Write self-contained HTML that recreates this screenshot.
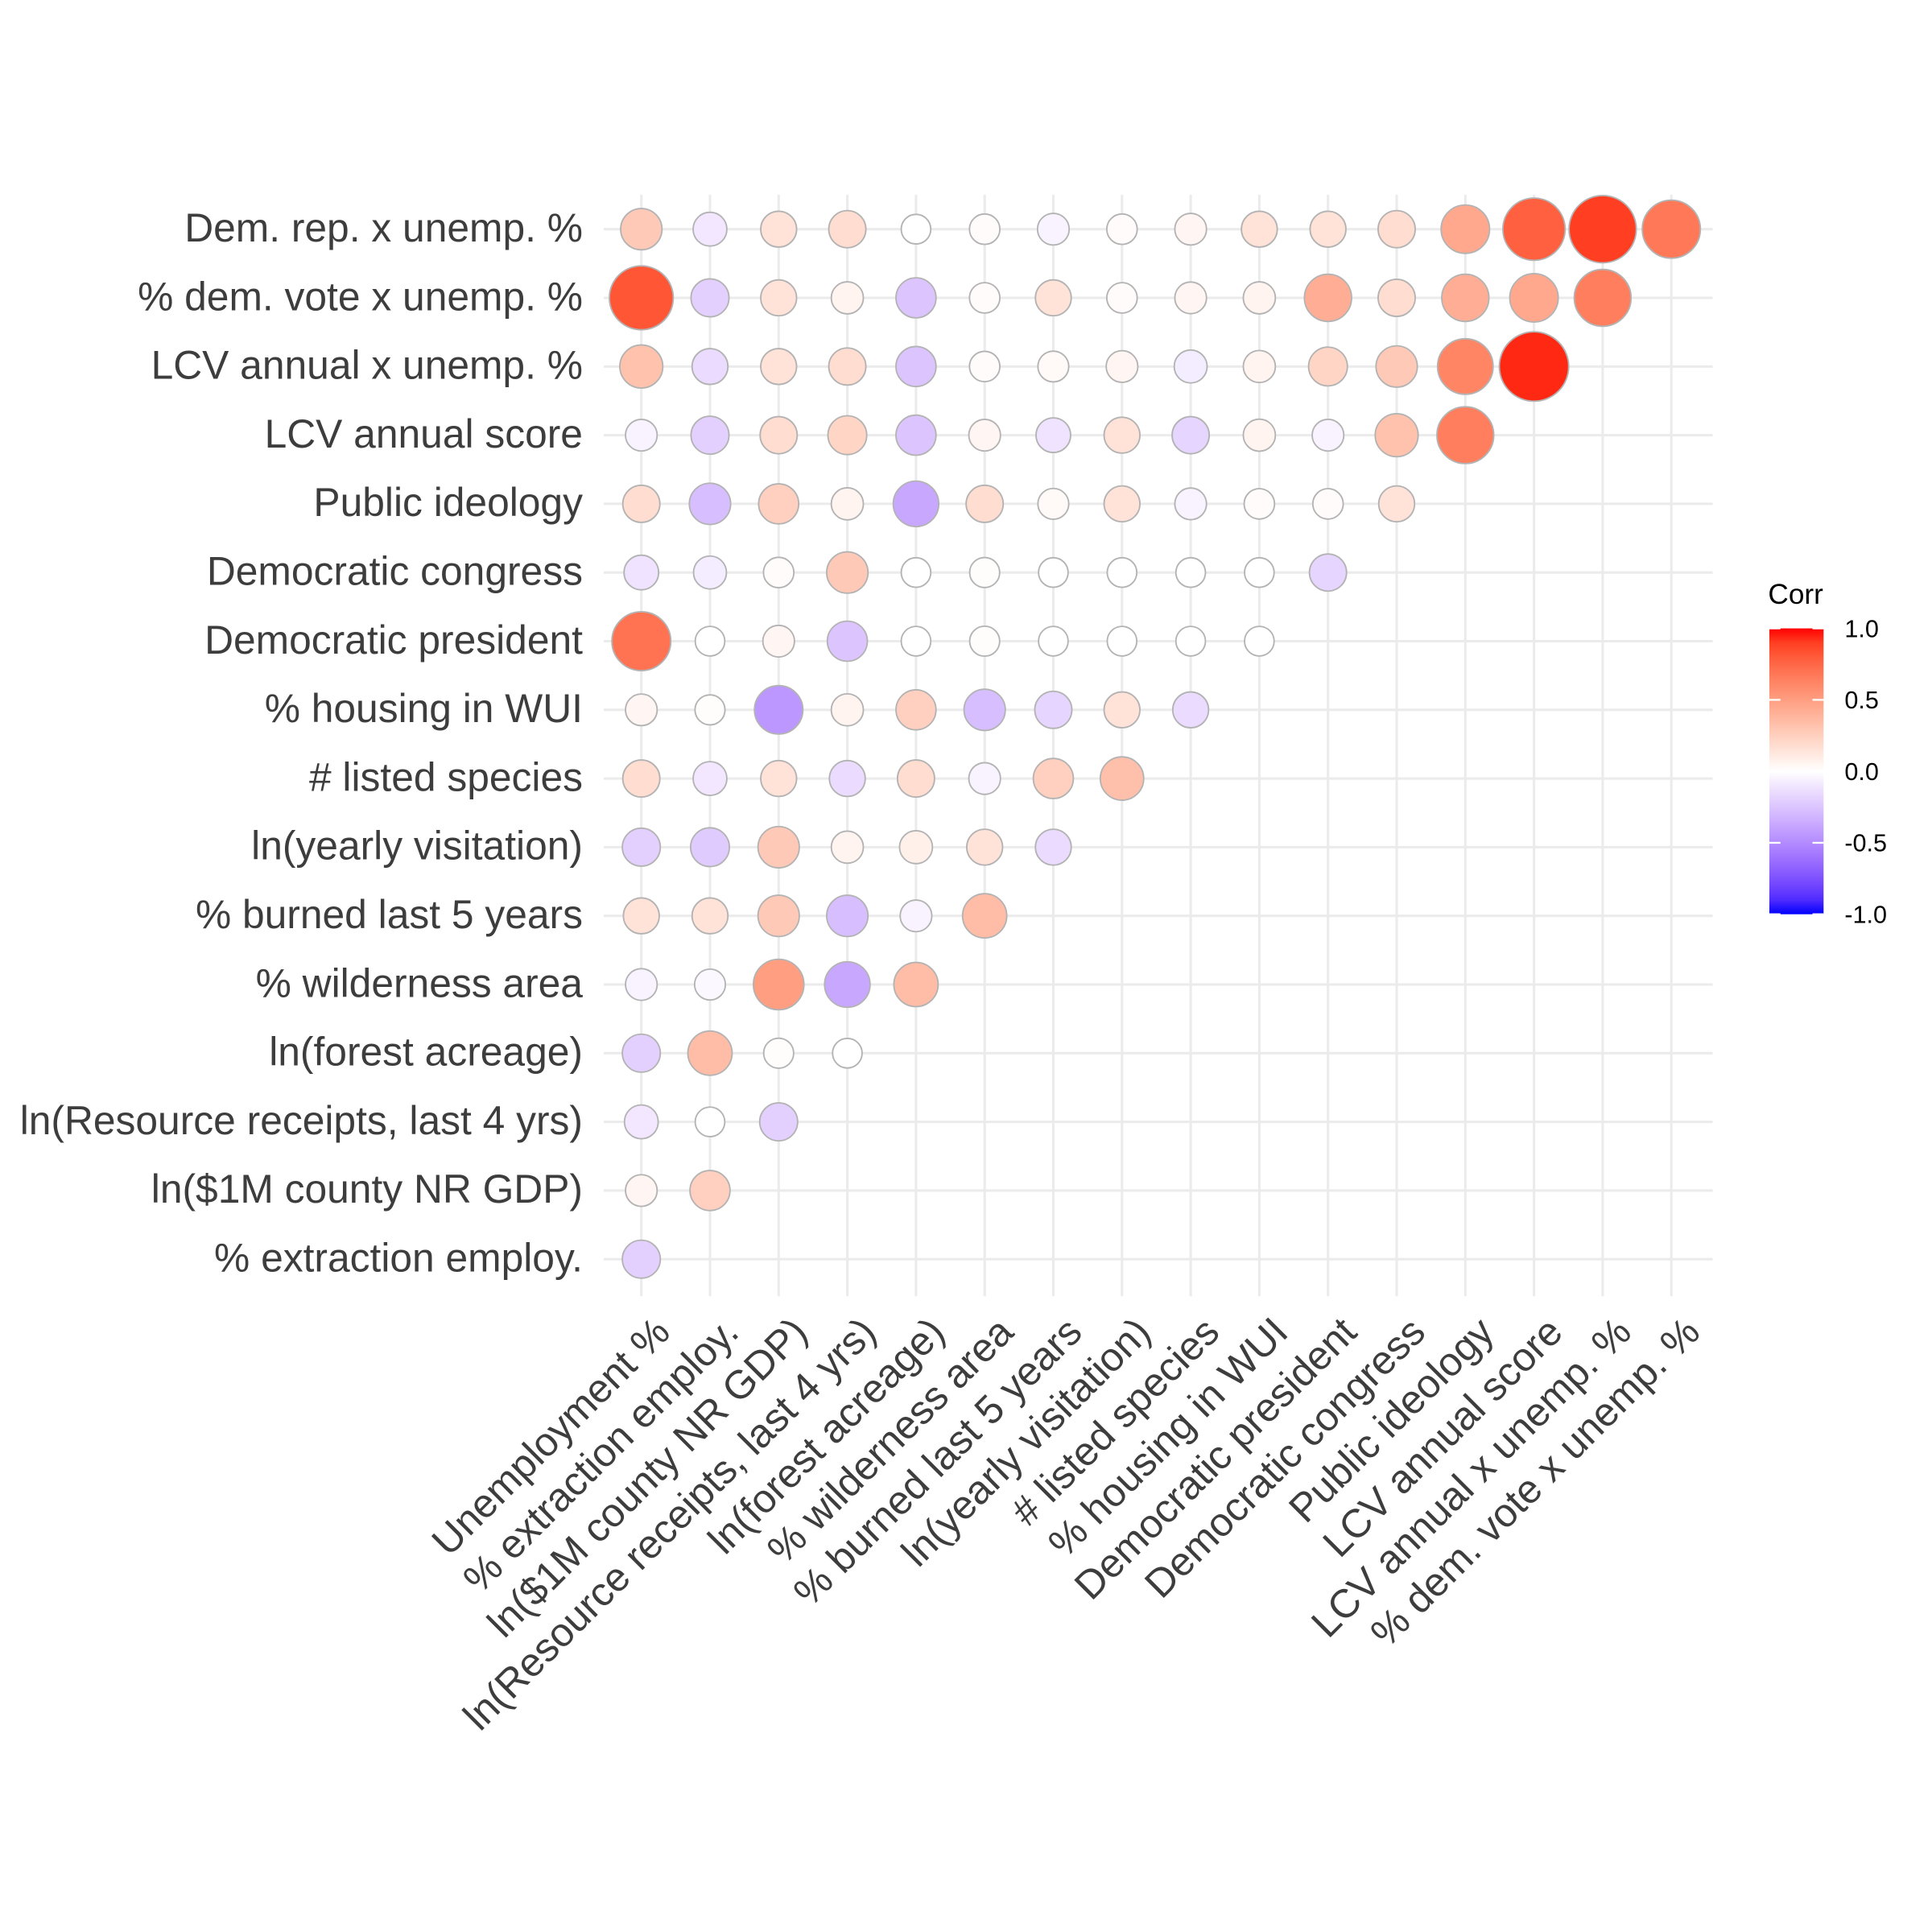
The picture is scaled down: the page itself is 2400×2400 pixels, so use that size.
<!DOCTYPE html>
<html><head><meta charset="utf-8"><title>Correlation matrix</title>
<style>html,body{margin:0;padding:0;background:#fff}svg{display:block}</style></head>
<body>
<svg id="chart" width="2400" height="2400" viewBox="0 0 1568 1568" xmlns="http://www.w3.org/2000/svg" font-family="'Liberation Sans', Arial, sans-serif">
<g id="grid"></g>
<g id="cells"></g>
<g id="ylabels"></g>
<g id="xlabels"></g>
<g id="legend"></g>
</svg>
<script>
const variables = ["Unemployment %","% extraction employ.","ln($1M county NR GDP)","ln(Resource receipts, last 4 yrs)","ln(forest acreage)","% wilderness area","% burned last 5 years","ln(yearly visitation)","# listed species","% housing in WUI","Democratic president","Democratic congress","Public ideology","LCV annual score","LCV annual x unemp. %","% dem. vote x unemp. %","Dem. rep. x unemp.  %"];
const corrRow1 = [-0.2];
const corrRow2 = [0.05,0.25];
const corrRow3 = [-0.1,0,-0.2];
const corrRow4 = [-0.2,0.35,0.01,0.0];
const corrRow5 = [-0.05,-0.03,0.5,-0.38,0.35];
const corrRow6 = [0.15,0.15,0.28,-0.28,-0.05,0.35];
const corrRow7 = [-0.2,-0.22,0.28,0.06,0.08,0.15,-0.15];
const corrRow8 = [0.18,-0.1,0.15,-0.15,0.18,-0.05,0.25,0.33];
const corrRow9 = [0.05,0.01,-0.45,0.06,0.25,-0.28,-0.18,0.15,-0.15];
const corrRow10 = [0.7,0,0.05,-0.25,0,0.01,0,0,0,0];
const corrRow11 = [-0.12,-0.08,0.02,0.28,0,0.01,0,0,0,0,-0.18];
const corrRow12 = [0.18,-0.28,0.25,0.06,-0.38,0.18,0.03,0.15,-0.05,0.02,0.02,0.15];
const corrRow13 = [-0.05,-0.2,0.18,0.22,-0.25,0.05,-0.12,0.15,-0.18,0.06,-0.05,0.32,0.65];
const corrRow14 = [0.32,-0.15,0.15,0.18,-0.25,0.02,0.03,0.05,-0.08,0.06,0.22,0.28,0.62,0.95];
const corrRow15 = [0.82,-0.2,0.15,0.06,-0.25,0.02,0.15,0.02,0.05,0.06,0.42,0.18,0.42,0.45,0.65];
const corrRow16 = [0.28,-0.1,0.15,0.18,0.0,0.02,-0.05,0.02,0.05,0.15,0.15,0.18,0.45,0.78,0.9,0.68];
const corrRows = [null,corrRow1,corrRow2,corrRow3,corrRow4,corrRow5,corrRow6,corrRow7,corrRow8,corrRow9,corrRow10,corrRow11,corrRow12,corrRow13,corrRow14,corrRow15,corrRow16];
const legendTicks = [1.0,0.5,0.0,-0.5,-1.0];
const legendTickLabels = ["1.0","0.5","0.0","-0.5","-1.0"];

const NS="http://www.w3.org/2000/svg";
function mk(tag,attrs,parent){const e=document.createElementNS(NS,tag);for(const k in attrs)e.setAttribute(k,attrs[k]);parent.appendChild(e);return e;}
const x0=520.5, dx=55.73, yTop=186, dy=55.73;
const xScale = c => x0 + c*dx;
const yScale = r => yTop + (16-r)*dy;
const rScale = v => 12 + 17*Math.abs(v);

function s2l(c){c/=255;return c<=0.04045?c/12.92:Math.pow((c+0.055)/1.055,2.4);}
function l2s(c){c=c<=0.0031308?12.92*c:1.055*Math.pow(c,1/2.4)-0.055;return Math.max(0,Math.min(255,Math.round(c*255)));}
function toLab(rgb){const [r,g,b]=rgb.map(s2l);let X=(r*0.4124+g*0.3576+b*0.1805)/0.95047,Y=r*0.2126+g*0.7152+b*0.0722,Z=(r*0.0193+g*0.1192+b*0.9505)/1.08883;const f=t=>t>0.008856?Math.cbrt(t):7.787*t+16/116;const fx=f(X),fy=f(Y),fz=f(Z);return [116*fy-16,500*(fx-fy),200*(fy-fz)];}
function fromLab(lab){const fy=(lab[0]+16)/116,fx=fy+lab[1]/500,fz=fy-lab[2]/200;const fi=t=>t*t*t>0.008856?t*t*t:(t-16/116)/7.787;const X=fi(fx)*0.95047,Y=fi(fy),Z=fi(fz)*1.08883;const r=X*3.2406-Y*1.5372-Z*0.4986,g=-X*0.9689+Y*1.8758+Z*0.0415,b=X*0.0557-Y*0.2040+Z*1.0570;return `rgb(${l2s(r)},${l2s(g)},${l2s(b)})`;}
const W=toLab([255,255,255]),R=toLab([255,0,0]),B=toLab([0,0,255]);
function color(v){const t=Math.min(1,Math.abs(v));const E=v>=0?R:B;return fromLab(W.map((w,i)=>w+(E[i]-w)*t));}

const grid=document.getElementById('grid');
for(let c=0;c<16;c++){const l=mk('line',{x1:xScale(c),x2:xScale(c),y1:158,y2:1052,stroke:'#ebebeb','stroke-width':2},grid);

}
for(let r=1;r<=16;r++){const l=mk('line',{x1:490,x2:1390,y1:yScale(r),y2:yScale(r),stroke:'#ebebeb','stroke-width':2},grid);

}

const cells=document.getElementById('cells');
for(let r=1;r<=16;r++){const row=corrRows[r];for(let c=0;c<row.length;c++){const v=row[c];
const ci=mk('circle',{cx:xScale(c),cy:yScale(r),r:rScale(v),fill:color(v),stroke:'#b3b3b3','stroke-width':1.2},cells);

}}

const yl=document.getElementById('ylabels');
for(let r=1;r<=16;r++){const t=mk('text',{x:473,y:yScale(r)+10,'text-anchor':'end','font-size':32.5,fill:'#3d3d3d'},yl);t.textContent=variables[r];

}
const xl=document.getElementById('xlabels');
for(let c=0;c<16;c++){const ax=xScale(c)+8,ay=1066;const t=mk('text',{x:ax,y:ay+24,'text-anchor':'end','font-size':32.5,fill:'#3d3d3d',transform:`rotate(-45 ${ax} ${ay})`},xl);t.textContent=variables[c];

}

const lg=document.getElementById('legend');
const tt=mk('text',{x:1435,y:490,'font-size':23,fill:'#000'},lg);tt.textContent='Corr';


const defs=mk('defs',{},lg);const gr=mk('linearGradient',{id:'cg',x1:0,y1:0,x2:0,y2:1},defs);
for(let i=0;i<=20;i++){const v=1-i/10;mk('stop',{offset:(i/20),'stop-color':color(v)},gr);}
const lyS=v=>626-116*v;
const bar=mk('rect',{x:1436,y:lyS(1),width:44,height:lyS(-1)-lyS(1),fill:'url(#cg)'},lg);


legendTicks.forEach((v,i)=>{mk('line',{x1:1436,x2:1445,y1:lyS(v),y2:lyS(v),stroke:'#fff','stroke-width':1.5},lg);mk('line',{x1:1471,x2:1480,y1:lyS(v),y2:lyS(v),stroke:'#fff','stroke-width':1.5},lg);
const t=mk('text',{x:1497,y:lyS(v)+7,'font-size':20,fill:'#000'},lg);t.textContent=legendTickLabels[i];

});
</script>
</body></html>
